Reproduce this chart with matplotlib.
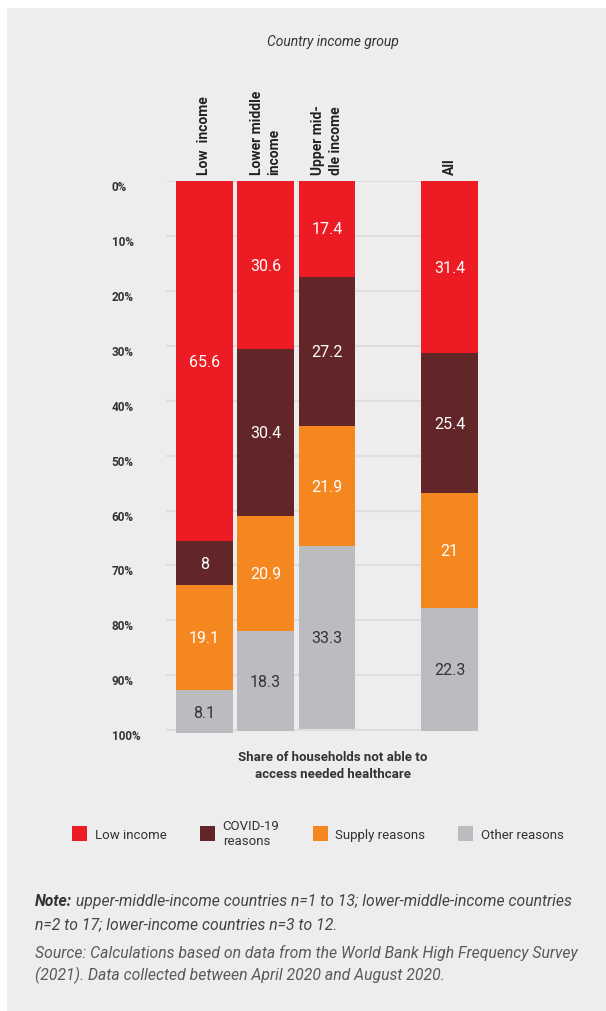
import matplotlib
matplotlib.use("Agg")
import matplotlib.pyplot as plt
import matplotlib.transforms as mtransforms
from matplotlib.patches import Rectangle, Patch
import numpy as np

plt.rcParams["font.family"] = ["Roboto", "DejaVu Sans"]

# ---------------------------------------------------------------- data
groups = ["Low  income", "Lower middle\nincome", "Upper mid-\ndle income", "All"]
xpos = [0, 1, 2, 4]
reasons = ["Low income", "COVID-19\nreasons", "Supply reasons", "Other reasons"]
low_income = [65.6, 30.6, 17.4, 31.4]
covid = [8, 30.4, 27.2, 25.4]
supply = [19.1, 20.9, 21.9, 21]
other = [8.1, 18.3, 33.3, 22.3]
yticks = list(range(0, 101, 10))

colors = ["#ED1C24", "#622628", "#F58721", "#BBBCBF"]
txtcol = ["white", "white", "white", "#333333"]
BG = "#EDEDED"

W, H = 606, 1012
fig = plt.figure(figsize=(W / 100, H / 100), dpi=100)
fig.patches.append(Rectangle((7 / W, 0), 1, 1 - 9 / H, transform=fig.transFigure,
                             facecolor=BG, edgecolor="none", zorder=-10))

ax = fig.add_axes([166 / W, 1 - 734 / H, (478 - 166) / W, (734 - 182) / H])
ax.set_facecolor("none")

bottom = np.zeros(len(xpos))
for vals, c, tc in zip([low_income, covid, supply, other], colors, txtcol):
    bars = ax.bar(xpos, vals, bottom=bottom, width=0.928, color=c, zorder=3)
    for b, v, y0 in zip(bars, vals, bottom):
        ax.text(b.get_x() + b.get_width() / 2, y0 + v / 2, f"{v:g}",
                ha="center", va="center", color=tc, fontsize=11.5, zorder=4)
    bottom += np.array(vals)

ax.set_ylim(100.5, 0)
ax.set_xlim(-0.627, 4.464)
ax.set_yticks(yticks)
ax.set_yticklabels([f"{t}%" for t in yticks], fontsize=8.5, fontweight="bold", color="#333333")
ax.yaxis.grid(True, color="#DEDEDE", lw=1.5, zorder=0)
ax.set_xticks([])
ax.tick_params(axis="y", length=0, pad=39)
off = mtransforms.ScaledTranslation(0, -4 / 100, fig.dpi_scale_trans)
for lab in ax.get_yticklabels():
    lab.set_ha("left")
    lab.set_transform(lab.get_transform() + off)
for s in ax.spines.values():
    s.set_visible(False)

# group labels, rotated above bars
for x, g in zip(xpos, groups):
    ax.annotate(g, xy=(x, 0), xytext=(0, 5), textcoords="offset points",
                rotation=90, ha="center", va="bottom", fontsize=10,
                fontweight="bold", color="#222222", linespacing=1.35,
                multialignment="left", annotation_clip=False)

fig.text(333 / W, 1 - 42 / H, "Country income group", ha="center", va="center",
         fontsize=10, style="italic", color="#333333")
fig.text(333 / W, 1 - 766 / H, "Share of households not able to\naccess needed healthcare",
         ha="center", va="center", fontsize=9.5, fontweight="bold", color="#333333",
         linespacing=1.35)

handles = [Patch(facecolor=c, edgecolor="none") for c in colors]
fig.legend(handles, reasons, loc="upper left", bbox_to_anchor=(72 / W, 1 - 820 / H),
           ncol=4, frameon=False, fontsize=9.5, handlelength=1.14, handleheight=1.36,
           handletextpad=0.6, columnspacing=2.5, borderpad=0, borderaxespad=0,
           labelcolor="#333333")

# notes
FS = 11.3
t_note = fig.text(35 / W, 1 - 902 / H, "Note:", fontsize=FS, fontweight="bold", style="italic",
                  color="#333333", va="center", ha="left")
ax.annotate(" upper-middle-income countries n=1 to 13; lower-middle-income countries",
            xy=(1, 0.5), xycoords=t_note, va="center", ha="left", fontsize=FS,
            style="italic", color="#444444", annotation_clip=False)
fig.text(35 / W, 1 - 925 / H, "n=2 to 17; lower-income countries n=3 to 12.", fontsize=FS,
         style="italic", color="#444444", va="center", ha="left")
fig.text(35 / W, 1 - 953 / H,
         "Source: Calculations based on data from the World Bank High Frequency Survey",
         fontsize=FS, style="italic", color="#5a5a5a", va="center", ha="left")
fig.text(35 / W, 1 - 975 / H,
         "(2021). Data collected between April 2020 and August 2020.",
         fontsize=FS, style="italic", color="#5a5a5a", va="center", ha="left")

fig.savefig("out.png", dpi=100, facecolor="white")
